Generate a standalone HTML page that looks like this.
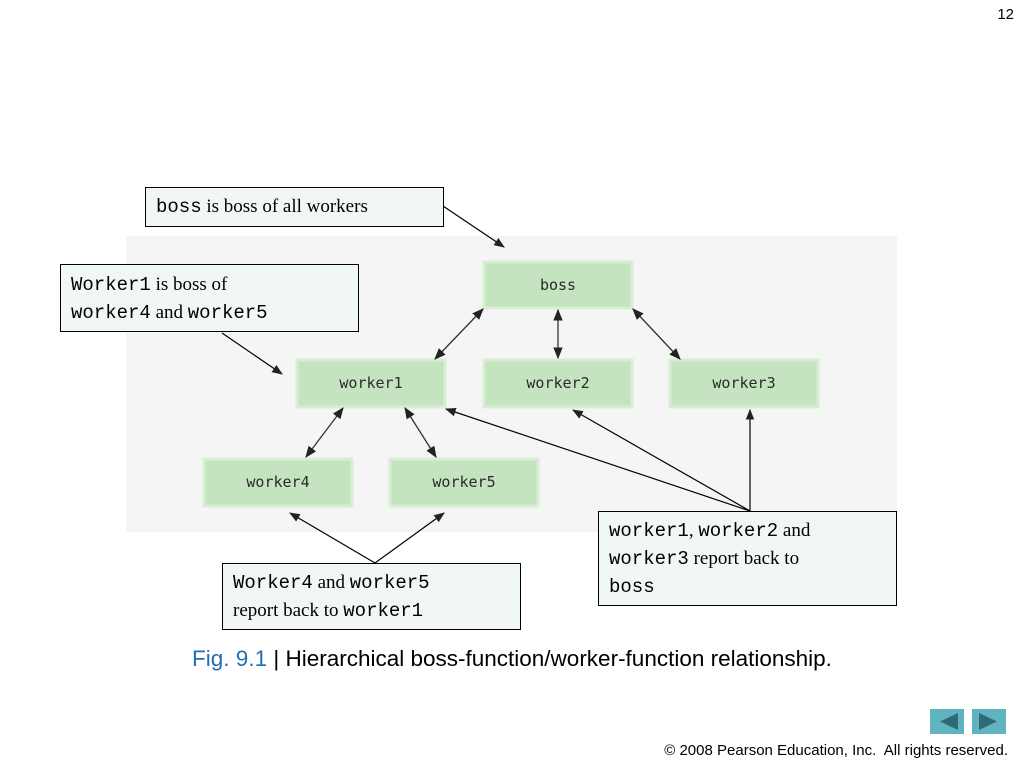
<!DOCTYPE html>
<html><head><style>
body{margin:0;width:1024px;height:768px;background:#fff;overflow:hidden;position:relative;font-family:"Liberation Serif",serif}
.m{font-family:"Liberation Mono",monospace}
.cb{position:absolute;border:1px solid #000;background:#f1f7f7;font-size:19px;line-height:27px;padding:0 10px;box-sizing:border-box}
</style></head><body>
<div style="position:absolute;right:10px;top:6px;font-family:'Liberation Sans',sans-serif;font-size:15px">12</div>
<svg width="1024" height="768" style="position:absolute;left:0;top:0">
<defs>
<marker id="a" viewBox="0 0 10 10" refX="9" refY="5" markerWidth="9" markerHeight="9" orient="auto-start-reverse"><path d="M0,1 L10,5 L0,9z" fill="#222"/></marker>
</defs>
<rect x="126" y="236" width="771" height="296" fill="#f5f5f5"/>
<g font-family="DejaVu Sans Mono, monospace" font-size="15" fill="#2a2a2a" text-anchor="middle">
<rect x="484" y="262" width="148" height="46" fill="#c3e4be" stroke="#d8eed4" stroke-width="3"/><text x="558" y="290">boss</text>
<rect x="297" y="360" width="148" height="47" fill="#c3e4be" stroke="#d8eed4" stroke-width="3"/><text x="371" y="388">worker1</text>
<rect x="484" y="360" width="148" height="47" fill="#c3e4be" stroke="#d8eed4" stroke-width="3"/><text x="558" y="388">worker2</text>
<rect x="670" y="360" width="148" height="47" fill="#c3e4be" stroke="#d8eed4" stroke-width="3"/><text x="744" y="388">worker3</text>
<rect x="204" y="459" width="148" height="47" fill="#c3e4be" stroke="#d8eed4" stroke-width="3"/><text x="278" y="487">worker4</text>
<rect x="390" y="459" width="148" height="47" fill="#c3e4be" stroke="#d8eed4" stroke-width="3"/><text x="464" y="487">worker5</text>
</g>
<g stroke="#333" stroke-width="1.3" fill="none" marker-start="url(#a)" marker-end="url(#a)">
<line x1="483" y1="309" x2="435" y2="359"/>
<line x1="558" y1="310" x2="558" y2="358"/>
<line x1="633" y1="309" x2="680" y2="359"/>
<line x1="343" y1="408" x2="306" y2="457"/>
<line x1="405" y1="408" x2="436" y2="457"/>
</g>
<g stroke="#000" stroke-width="1.2" fill="none" marker-end="url(#a)">
<line x1="443" y1="206" x2="504" y2="247"/>
<line x1="222" y1="333" x2="282" y2="374"/>
<line x1="375" y1="563" x2="290" y2="513"/>
<line x1="375" y1="563" x2="444" y2="513"/>
<line x1="750" y1="511" x2="446" y2="409"/>
<line x1="750" y1="511" x2="573" y2="410"/>
<line x1="750" y1="511" x2="750" y2="410"/>
</g>
<rect x="930" y="709" width="34" height="25" fill="#5fb4c0"/>
<path d="M940,721.5 L958,713 L958,730z" fill="#2f6a72"/>
<rect x="972" y="709" width="34" height="25" fill="#5fb4c0"/>
<path d="M997,721.5 L979,713 L979,730z" fill="#2f6a72"/>
</svg>
<div class="cb" style="left:145px;top:187px;width:299px;height:40px;line-height:38px"><span class="m">boss</span> is boss of all workers</div>
<div class="cb" style="left:60px;top:264px;width:299px;height:68px;padding-top:6px"><span class="m">Worker1</span> is boss of<br><span class="m">worker4</span> and <span class="m">worker5</span></div>
<div class="cb" style="left:222px;top:563px;width:299px;height:67px;padding-top:5px"><span class="m">Worker4</span> and <span class="m">worker5</span><br>report back to <span class="m">worker1</span></div>
<div class="cb" style="left:598px;top:511px;width:299px;height:95px;padding-top:5px"><span class="m">worker1</span>, <span class="m">worker2</span> and<br><span class="m">worker3</span> report back to<br><span class="m">boss</span></div>
<div style="position:absolute;left:0;width:1024px;top:646px;text-align:center;font-family:'Liberation Sans',sans-serif;font-size:22.5px"><span style="color:#1f6fb5">Fig. 9.1</span> | Hierarchical boss-function/worker-function relationship.</div>
<div style="position:absolute;right:16px;top:742px;font-family:'Liberation Sans',sans-serif;font-size:15px">© 2008 Pearson Education, Inc.&nbsp; All rights reserved.</div>
</body></html>
